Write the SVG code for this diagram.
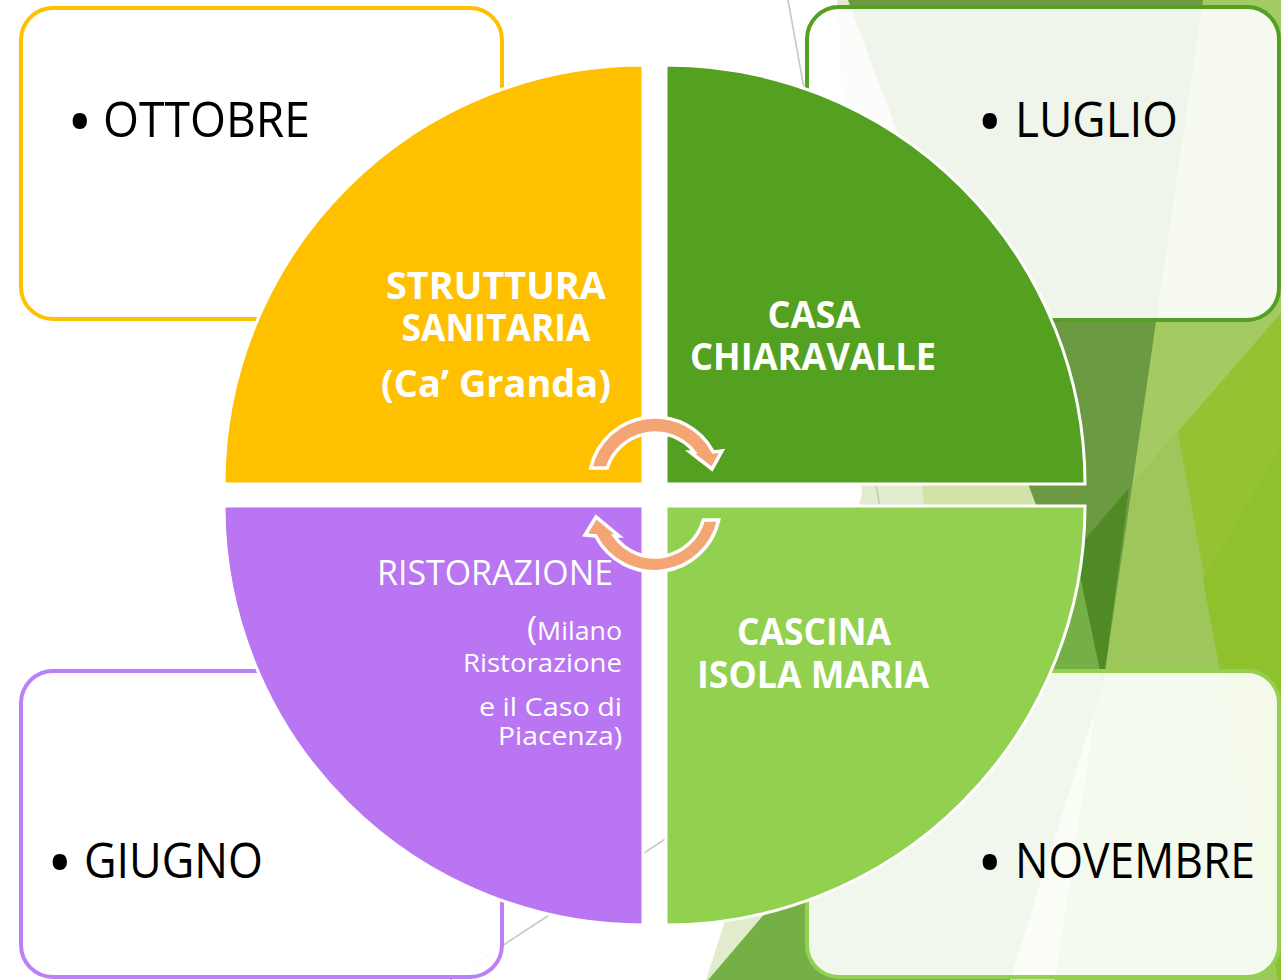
<svg xmlns="http://www.w3.org/2000/svg" width="1281" height="980" viewBox="0 0 1281 980">
<defs>
<style>
.box{fill:#ffffff;fill-opacity:0.9;stroke-width:4}
.q{stroke:#ffffff;stroke-width:3}
.mon{font-family:"Open Sans","Liberation Sans",sans-serif;font-size:50px;fill:#000000}
.bul{font-family:"Open Sans","Liberation Sans",sans-serif;font-size:68px;fill:#000000}
.lb{font-family:"Open Sans","Liberation Sans",sans-serif;font-size:38px;font-weight:bold;fill:#ffffff;text-anchor:middle}
.lr{font-family:"Open Sans","Liberation Sans",sans-serif;font-size:34px;fill:#ffffff}
.ls{font-family:"Open Sans","Liberation Sans",sans-serif;font-size:25px;fill:#ffffff;text-anchor:end}
.arr{fill:#F3A674;stroke:#ffffff;stroke-width:3.5;stroke-linejoin:miter}
.gl{stroke:#C8C8C8;stroke-width:1.6;fill:none}
</style>
</defs>
<rect x="0" y="0" width="1281" height="980" fill="#ffffff"/>
<g id="background">
<polygon points="837,0 1281,0 1281,980 706,980 862,495" fill="#E0ECCB"/>
<polygon points="900,0 1281,0 1281,980 985,980 923,495" fill="#D2E3A8"/>
<polygon points="1203,0 1281,0 1281,980 1055,980" fill="#93C233"/>
<polygon points="1203,0 1281,0 1281,313 1129,488" fill="#A4CB63"/>
<polygon points="1129,488 1178,432 1278,980 1055,980" fill="#9DC75B"/>
<polygon points="1203,580 1281,447 1281,980 1278,980" fill="#8EC12B"/>
<polygon points="848,0 1203,0 1103,685" fill="#6B9A42"/>
<polygon points="1075,551 1103,685 1010,980 708,980" fill="#74B046"/>
<polygon points="1075,551 1129,488 1103,685" fill="#4F8A25"/>
<line class="gl" x1="788" y1="0" x2="915" y2="700"/>
<line class="gl" x1="450" y1="980" x2="760" y2="777"/>
</g>
<g id="box-ottobre">
<rect class="box" x="21" y="8" width="481" height="311" rx="32" stroke="#FFC000"/>
<text class="bul" x="67" y="146">•</text>
<text class="mon" x="103" y="137" textLength="207" lengthAdjust="spacingAndGlyphs">OTTOBRE</text>
</g>
<g id="box-luglio">
<rect class="box" x="807" y="7" width="472" height="313" rx="32" stroke="#54A021"/>
<text class="bul" x="977" y="146">•</text>
<text class="mon" x="1015" y="137" textLength="163" lengthAdjust="spacingAndGlyphs">LUGLIO</text>
</g>
<g id="box-giugno">
<rect class="box" x="21" y="671" width="481" height="306" rx="32" stroke="#BD7FF5"/>
<text class="bul" x="47" y="887">•</text>
<text class="mon" x="84" y="878" textLength="179" lengthAdjust="spacingAndGlyphs">GIUGNO</text>
</g>
<g id="box-novembre">
<rect class="box" x="807" y="671" width="472" height="306" rx="32" stroke="#92D050"/>
<text class="bul" x="977" y="887">•</text>
<text class="mon" x="1015" y="878" textLength="240" lengthAdjust="spacingAndGlyphs">NOVEMBRE</text>
</g>
<g id="q-struttura">
<path class="q" d="M643,484 L224,484 A419,419 0 0 1 643,65 Z" fill="#FFC000"/>
<text class="lb" x="496" y="299" textLength="220" lengthAdjust="spacingAndGlyphs">STRUTTURA</text>
<text class="lb" x="496" y="341" textLength="189" lengthAdjust="spacingAndGlyphs">SANITARIA</text>
<text class="lb" x="496" y="397" textLength="230" lengthAdjust="spacingAndGlyphs">(Ca’ Granda)</text>
</g>
<g id="q-casa">
<path class="q" d="M666,484 L666,65 A419,419 0 0 1 1085,484 Z" fill="#54A021"/>
<text class="lb" x="814" y="328" textLength="93" lengthAdjust="spacingAndGlyphs">CASA</text>
<text class="lb" x="813" y="370" textLength="246" lengthAdjust="spacingAndGlyphs">CHIARAVALLE</text>
</g>
<g id="q-ristorazione">
<path class="q" d="M643,506 L643,925 A419,419 0 0 1 224,506 Z" fill="#B975F2"/>
<text class="lr" x="377" y="585" textLength="236" lengthAdjust="spacingAndGlyphs">RISTORAZIONE</text>
<text class="ls" x="622" y="640" textLength="95" lengthAdjust="spacingAndGlyphs"><tspan font-size="32">(</tspan>Milano</text>
<text class="ls" x="622" y="672" textLength="159" lengthAdjust="spacingAndGlyphs">Ristorazione</text>
<text class="ls" x="622" y="716" textLength="143" lengthAdjust="spacingAndGlyphs">e il Caso di</text>
<text class="ls" x="622" y="745" textLength="124" lengthAdjust="spacingAndGlyphs">Piacenza)</text>
</g>
<g id="q-cascina">
<path class="q" d="M666,506 L1085,506 A419,419 0 0 1 666,925 Z" fill="#92D050"/>
<text class="lb" x="814" y="645" textLength="154" lengthAdjust="spacingAndGlyphs">CASCINA</text>
<text class="lb" x="813" y="688" textLength="232" lengthAdjust="spacingAndGlyphs">ISOLA MARIA</text>
</g>
<g id="connectors">
<path class="arr" d="M590.7,468 A66,66 0 0 1 713.3,452 L722,451 L712,469 L690,452 L694.2,452 A50,50 0 0 0 607.3,468 Z"/>
<path class="arr" d="M718.7,520 A66,66 0 0 1 595.7,536 L585,535 L596,517 L619,536 L614.3,536 A50,50 0 0 0 703.3,520 Z"/>
</g>
</svg>
